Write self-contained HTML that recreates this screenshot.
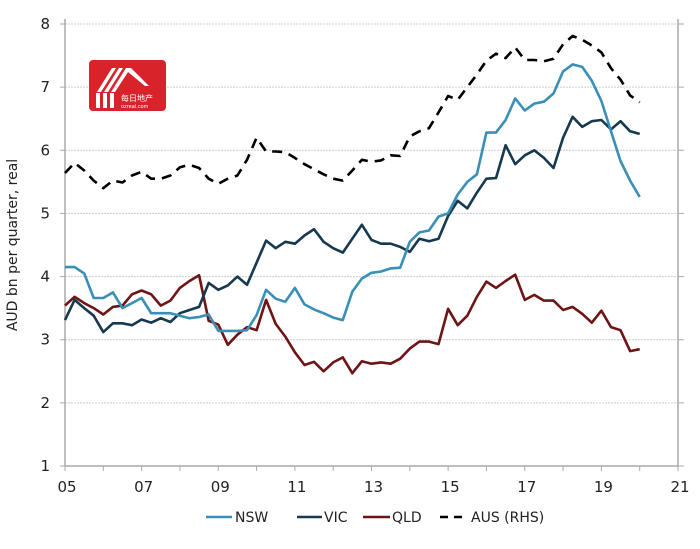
<!DOCTYPE html>
<html><head><meta charset="utf-8"><style>
body{margin:0;background:#fff;}
svg text{font-family:"DejaVu Sans","Liberation Sans",sans-serif;fill:#222;}
</style></head><body>
<svg width="700" height="544" xmlns="http://www.w3.org/2000/svg">
<g id="grid"></g>
<g id="axes"></g>
<g id="series"></g>
<g>
<rect x="89" y="60" width="77" height="51" rx="4" fill="#d9232a"/>
<path d="M97 92 L112 68 L116 68 L101 92 Z M104 92 L119 68 L123 68 L108 92Z M111 92 L126 68 L131 68 L149 86 L145 86 L128 72 L115 92Z" fill="#fff"/>
<rect x="96" y="93" width="4" height="15" fill="#fff"/><rect x="103" y="93" width="4" height="15" fill="#fff"/><rect x="110" y="93" width="4" height="15" fill="#fff"/>
<text x="121" y="101" font-size="8" style="fill:#fff">每日地产</text>
<text x="121" y="108" font-size="5" style="fill:#fff">ozreal.com</text>
</g>
<text x="17" y="245" font-size="14" transform="rotate(-90 17 245)" text-anchor="middle">AUD bn per quarter, real</text>
<g>
<g><line x1="206" y1="517" x2="232" y2="517" stroke="#3a8fb7" stroke-width="2.5"/><text x="235" y="522" font-size="14">NSW</text></g>
<g><line x1="297" y1="517" x2="322" y2="517" stroke="#16394f" stroke-width="2.5"/><text x="324" y="522" font-size="14">VIC</text></g>
<g><line x1="363" y1="517" x2="390" y2="517" stroke="#6e1414" stroke-width="2.5"/><text x="392" y="522" font-size="14">QLD</text></g>
<g><line x1="440" y1="517" x2="467" y2="517" stroke="#000" stroke-width="2.5" stroke-dasharray="8,6"/><text x="471" y="522" font-size="14">AUS (RHS)</text></g>
</g>
</svg>
<script>
const yTicks=[1,2,3,4,5,6,7,8];
const xTickLabels=["05","07","09","11","13","15","17","19","21"];
const startYear=2005;
const nsw=[4.15,4.15,4.05,3.66,3.66,3.75,3.5,3.58,3.66,3.42,3.42,3.42,3.38,3.34,3.36,3.4,3.14,3.14,3.14,3.15,3.39,3.79,3.65,3.6,3.82,3.56,3.48,3.42,3.35,3.31,3.76,3.97,4.06,4.08,4.13,4.14,4.55,4.7,4.73,4.95,5.0,5.3,5.5,5.62,6.28,6.28,6.48,6.82,6.63,6.74,6.77,6.9,7.25,7.36,7.32,7.1,6.78,6.3,5.83,5.52,5.26];
const vic=[3.31,3.63,3.5,3.38,3.12,3.26,3.26,3.23,3.32,3.27,3.34,3.28,3.42,3.47,3.52,3.9,3.79,3.86,4.0,3.87,4.22,4.57,4.45,4.55,4.52,4.65,4.75,4.55,4.45,4.38,4.6,4.82,4.58,4.52,4.52,4.47,4.39,4.6,4.56,4.6,4.96,5.2,5.08,5.33,5.55,5.56,6.08,5.78,5.92,6.0,5.88,5.72,6.2,6.53,6.37,6.46,6.48,6.33,6.46,6.3,6.26];
const qld=[3.54,3.68,3.58,3.5,3.4,3.52,3.54,3.72,3.78,3.72,3.54,3.62,3.82,3.93,4.02,3.3,3.24,2.92,3.08,3.2,3.15,3.63,3.25,3.05,2.8,2.6,2.65,2.5,2.64,2.72,2.47,2.66,2.62,2.64,2.62,2.7,2.86,2.97,2.97,2.93,3.49,3.23,3.38,3.68,3.92,3.82,3.93,4.03,3.63,3.71,3.62,3.62,3.47,3.52,3.41,3.27,3.46,3.2,3.15,2.82,2.85];
const aus=[5.64,5.8,5.68,5.52,5.4,5.52,5.49,5.6,5.66,5.55,5.55,5.6,5.73,5.77,5.72,5.55,5.47,5.55,5.6,5.85,6.2,5.98,5.98,5.97,5.88,5.78,5.7,5.62,5.55,5.52,5.68,5.85,5.82,5.84,5.92,5.91,6.22,6.3,6.35,6.6,6.86,6.8,7.0,7.2,7.42,7.53,7.46,7.63,7.43,7.43,7.41,7.45,7.68,7.81,7.75,7.66,7.55,7.3,7.12,6.87,6.76];
const L=65,R=678,T=24,B=466,NS="http://www.w3.org/2000/svg";
const y=v=>B-(v-1)/7*(B-T);
const xYear=yr=>L+(yr-2005)/16*(R-L);
const xq=i=>xYear(startYear+i/4);
function mk(tag,at,parent){const e=document.createElementNS(NS,tag);for(const k in at)e.setAttribute(k,at[k]);parent.appendChild(e);return e;}
const grid=document.getElementById('grid'),axes=document.getElementById('axes'),ser=document.getElementById('series');
yTicks.forEach(t=>{
 if(t>1){const g=mk('line',{x1:L,x2:R,y1:y(t),y2:y(t),stroke:'#ccc','stroke-width':1,'stroke-dasharray':'2,1'},grid);
 
 }
 mk('line',{x1:L-5,x2:L,y1:y(t),y2:y(t),stroke:'#aaa'},axes);
 mk('line',{x1:R,x2:R+6,y1:y(t),y2:y(t),stroke:'#aaa'},axes);
 const tx=mk('text',{x:50,y:y(t)+5,'font-size':15,'text-anchor':'end'},axes);tx.textContent=t;
 
 
});
mk('line',{x1:L,x2:L,y1:T-5,y2:B,stroke:'#aaa','stroke-width':1.5},axes);
mk('line',{x1:R,x2:R,y1:T-5,y2:B,stroke:'#aaa','stroke-width':1.5},axes);
mk('line',{x1:L,x2:R,y1:B,y2:B,stroke:'#aaa','stroke-width':1.5},axes);
for(let k=0;k<=16;k++){mk('line',{x1:xYear(2005+k),x2:xYear(2005+k),y1:B,y2:B+5,stroke:'#aaa'},axes);}
xTickLabels.forEach((s,k)=>{const tx=mk('text',{x:xYear(2005+2*k)+2,y:B+26,'font-size':15,'text-anchor':'middle'},axes);tx.textContent=s;
 
 });
function line(arr,color,name,dash){
 const p=mk('path',{d:arr.map((v,i)=>(i?'L':'M')+xq(i).toFixed(1)+' '+y(v).toFixed(1)).join(''),fill:'none',stroke:color,'stroke-width':2.6,'stroke-linejoin':'round'},ser);
 if(dash)p.setAttribute('stroke-dasharray',dash);
 
 
}
line(aus,'#000','series-aus','10,7');
line(qld,'#6e1414','series-qld');
line(vic,'#16394f','series-vic');
line(nsw,'#3a8fb7','series-nsw');
</script>
</body></html>
